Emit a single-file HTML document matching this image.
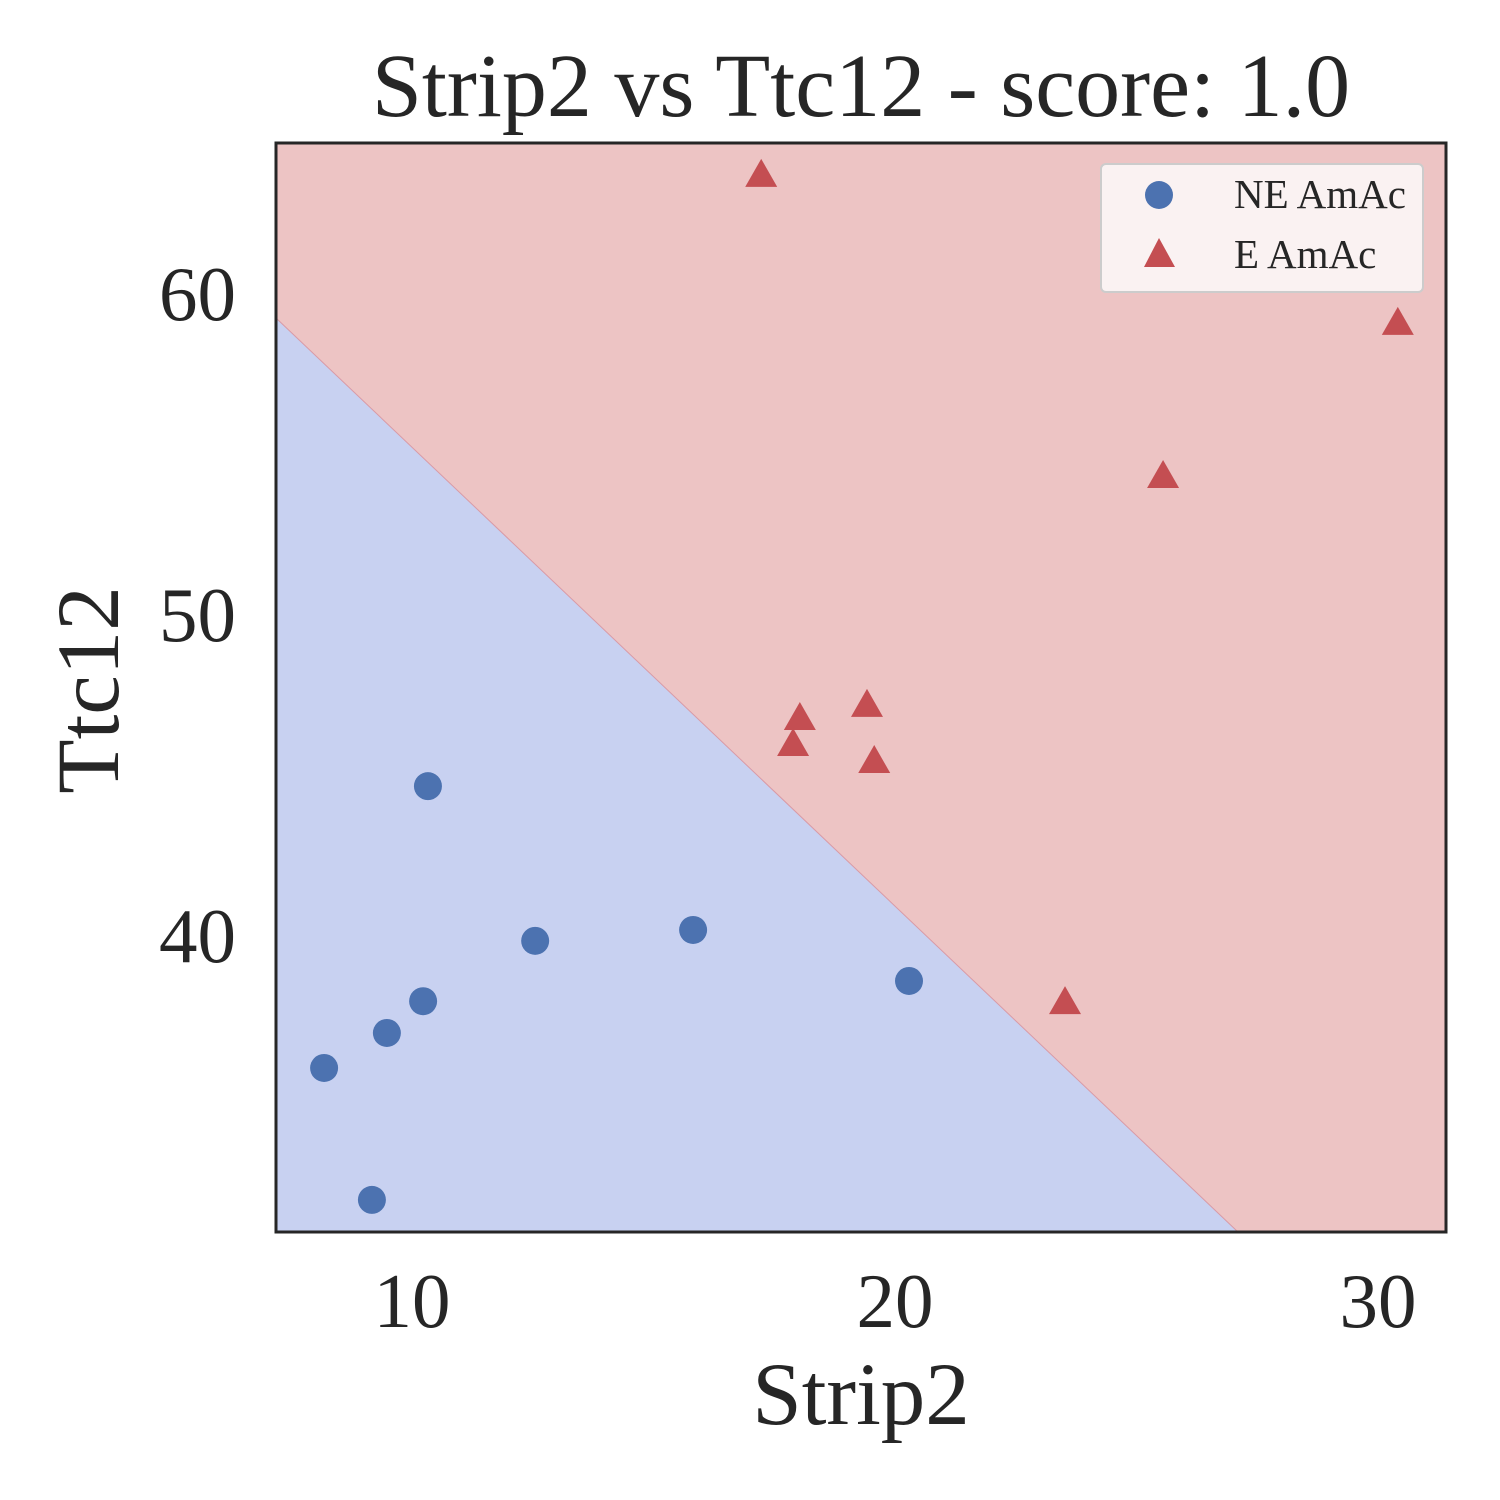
<!DOCTYPE html>
<html><head><meta charset="utf-8"><style>
html,body{margin:0;padding:0;background:#fff}
svg{display:block;font-family:"Liberation Serif",serif}
</style></head><body>
<svg id="chart" width="1500" height="1500" viewBox="0 0 1500 1500" xmlns="http://www.w3.org/2000/svg">
<g id="plot"></g>
</svg>
<script>
const neX=[8.18,9.48,10.23,10.33,9.17,12.55,15.82,20.29];
const neY=[35.92,37.01,38.0,44.70,31.81,39.88,40.22,38.63];
const eX=[17.23,18.03,17.89,19.42,19.57,23.52,25.55,30.41];
const eY=[63.71,46.79,45.98,47.2,45.45,37.94,54.33,59.1];
const xTicks=[10,20,30];
const yTicks=[40,50,60];
const L=276,R=1446,T=143,B=1232;
const sx=v=>412+(v-10)*48.3;
const sy=v=>937-(v-40)*32.1;
const ix=p=>(p-412)/48.3+10, iy=p=>40-(p-937)/32.1;
const bx0=ix(276),by0=iy(318),bx1=ix(1238),by1=iy(1232);
const NS="http://www.w3.org/2000/svg";
const g=document.getElementById('plot');
function mk(t,a,parent){const e=document.createElementNS(NS,t);for(const k in a)e.setAttribute(k,a[k]);(parent||g).appendChild(e);return e;}
let e;
e=mk('rect',{x:L,y:T,width:R-L,height:B-T,fill:'#edc4c4'});


e=mk('polygon',{points:`${sx(bx0)},${sy(by0)} ${sx(bx1)},${sy(by1)} ${L},${B}`,fill:'#c8d1f1'});


e=mk('line',{x1:sx(bx0),y1:sy(by0),x2:sx(bx1),y2:sy(by1),stroke:'#d99aa6','stroke-width':1});


neX.forEach((x,i)=>{
  const c=mk('circle',{cx:sx(x),cy:sy(neY[i]),r:14,fill:'#4c72b0'});
  
  
});
eX.forEach((x,i)=>{
  const cx=sx(x),cy=sy(eY[i]);
  const p=mk('polygon',{points:`${cx},${cy-17} ${cx-16},${cy+11} ${cx+16},${cy+11}`,fill:'#c44e52'});
  
  
});
e=mk('rect',{x:L,y:T,width:R-L,height:B-T,fill:'none',stroke:'#262626','stroke-width':3});


xTicks.forEach(v=>{
  const t=mk('text',{x:sx(v),y:1327,'font-size':77,fill:'#262626','text-anchor':'middle'});
  t.textContent=v;
  
  
});
yTicks.forEach(v=>{
  const t=mk('text',{x:236,y:sy(v)+25,'font-size':77,fill:'#262626','text-anchor':'end'});
  t.textContent=v;
  
  
});
e=mk('text',{x:861,y:1424,'font-size':89,fill:'#262626','text-anchor':'middle'});e.textContent='Strip2';


e=mk('text',{x:0,y:0,'font-size':89,fill:'#262626','text-anchor':'middle',transform:'translate(118,690) rotate(-90)'});e.textContent='Ttc12';


e=mk('text',{x:861,y:116,'font-size':90,fill:'#262626','text-anchor':'middle'});e.textContent='Strip2 vs Ttc12 - score: 1.0';


const lg=mk('g',{});


mk('rect',{x:1101,y:164,width:322,height:128,rx:5,fill:'#faf2f2',stroke:'#cccccc','stroke-width':2},lg);
e=mk('circle',{cx:1159,cy:195,r:14,fill:'#4c72b0'},lg);


e=mk('polygon',{points:'1159,238 1144,267 1175,267',fill:'#c44e52'},lg);


e=mk('text',{x:1234,y:208,'font-size':41,fill:'#262626'},lg);e.textContent='NE AmAc';


e=mk('text',{x:1234,y:268,'font-size':41,fill:'#262626'},lg);e.textContent='E AmAc';


</script>
</body></html>
